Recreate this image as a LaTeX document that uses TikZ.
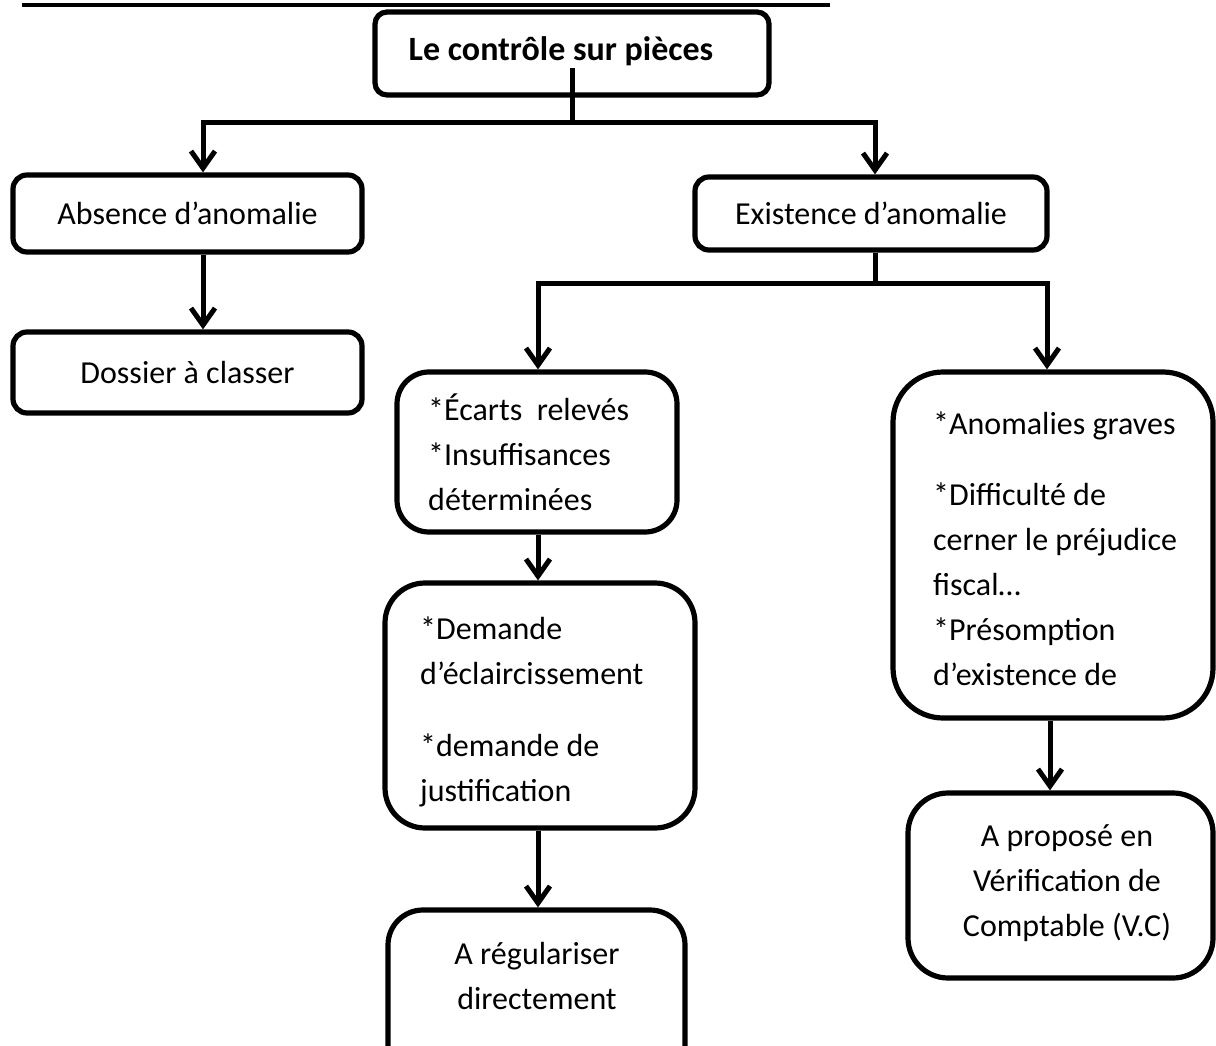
\documentclass[tikz,border=0pt]{standalone}
\usepackage{fontspec}
\setmainfont{Carlito}
\usetikzlibrary{arrows.meta}
\tikzset{
  box/.style={draw, line width=5.2pt, rectangle, inner sep=0pt},
  txt/.style={inner sep=0pt, font=\fontsize{32}{45}\selectfont},
  conn/.style={line width=5pt},
  arr/.style={line width=5pt, -{Straight Barb[length=17pt,width=24pt]}}
}
\begin{document}
\begin{tikzpicture}[x=1pt,y=-1pt]
\useasboundingbox (0,0) rectangle (1216,1046);
\begin{scope}
\clip (0,0) rectangle (1216,1046);
% title underline
\draw[line width=4pt] (22,5) -- (830,5);
% boxes
\node[box, rounded corners=12pt, minimum width=394pt, minimum height=83pt] (top) at (572,53.5) {};
\node[txt, font=\fontsize{34}{45}\selectfont\bfseries] (toptxt) at (561,51) {Le contrôle sur pièces};
\node[box, txt, rounded corners=14pt, minimum width=349pt, minimum height=77pt] (abs) at (187.5,213.5) {Absence d’anomalie};
\node[box, txt, rounded corners=14pt, minimum width=349pt, minimum height=81pt] (dos) at (187.5,372.5) {Dossier à classer};
\node[box, txt, rounded corners=14pt, minimum width=352pt, minimum height=73pt] (exi) at (871,213.5) {Existence d’anomalie};
\node[box, rounded corners=32pt, minimum width=280pt, minimum height=160pt] (ec) at (537,452) {};
\node[txt, align=left, anchor=west] (ectxt) at (428,452) {*Écarts\ \ relevés\\*Insuffisances\\déterminées};
\node[box, rounded corners=40pt, minimum width=310pt, minimum height=245pt] (dem) at (540,705.5) {};
\node[txt, align=left, anchor=west] (demtxt) at (420,711.5) {*Demande\\d’éclaircissement\\[27pt]*demande de\\justification};
\node[box, rounded corners=35pt, minimum width=297pt, minimum height=170pt] (reg) at (536.5,995) {};
\node[txt, align=center] (regtxt) at (537,976) {A régulariser\\directement};
\node[box, rounded corners=50pt, minimum width=320pt, minimum height=346pt] (big) at (1053,545) {};
\node[txt, align=left, anchor=west] (bigtxt) at (933,548.5) {*Anomalies graves\\[26pt]*Difficulté de\\cerner le préjudice\\fiscal…\\*Présomption\\d’existence de};
\node[box, rounded corners=40pt, minimum width=305pt, minimum height=185pt] (prop) at (1060.5,885.5) {};
\node[txt, align=center] (proptxt) at (1067,883) {A proposé en\\Vérification de\\Comptable (V.C)};
% connectors
\coordinate (topstem) at (572,68);
\coordinate (j1) at (572,123);
\coordinate (jl) at (203,123);
\coordinate (jr) at (875,123);
\coordinate (j2) at (875,283);
\coordinate (k1) at (538,283);
\coordinate (k2) at (1047,283);
\coordinate (m) at (1050,718);
\draw[conn] (topstem) -- (j1);
\draw[arr] (j1) -- (jl) -- (jl |- abs.north);
\draw[arr] (j1) -- (jr) -- (jr |- exi.north);
\draw[arr] (abs.south -| jl) -- (dos.north -| jl);
\draw[conn] (exi.south -| jr) -- (j2);
\draw[arr] (j2) -- (k1) -- (k1 |- ec.north);
\draw[arr] (j2) -- (k2) -- (k2 |- big.north);
\draw[arr] (ec.south -| k1) -- (dem.north -| k1);
\draw[arr] (dem.south -| k1) -- (reg.north -| k1);
\draw[arr] (big.south -| m) -- (prop.north -| m);
\end{scope}
\end{tikzpicture}
\end{document}
